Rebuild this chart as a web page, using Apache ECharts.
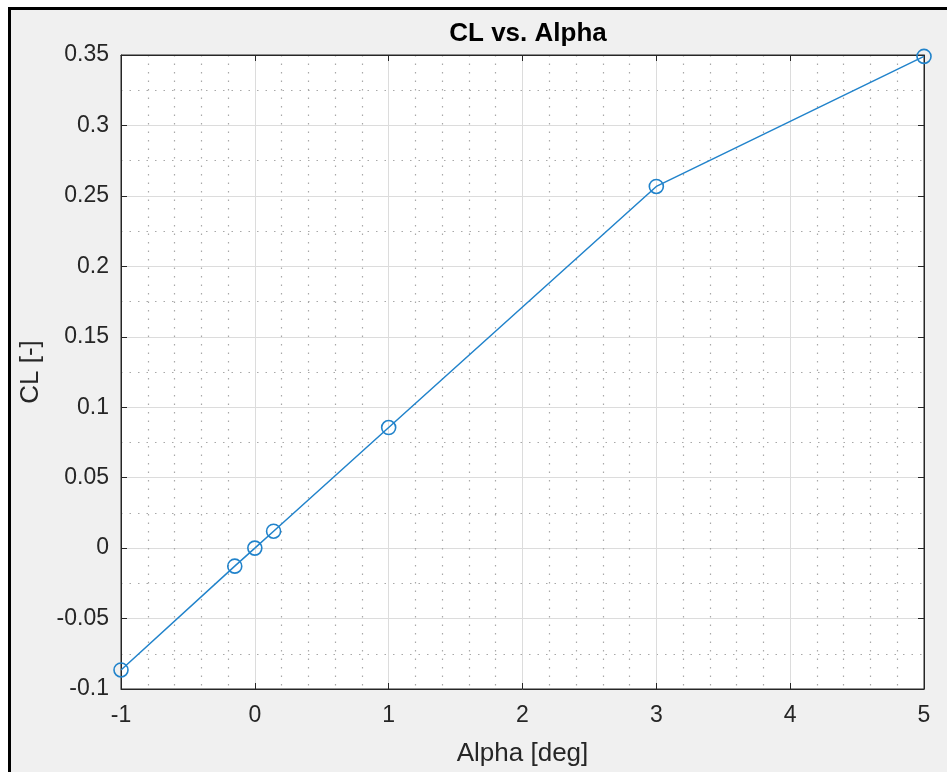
<!DOCTYPE html>
<html>
<head>
<meta charset="utf-8">
<script src="https://cdn.jsdelivr.net/npm/echarts@6/dist/echarts.min.js"></script>
<style>
  html, body { margin: 0; padding: 0; background: #ffffff; }
  #frame { position: absolute; left: 8px; top: 7px; width: 939px; height: 765px; box-sizing: border-box;
           border-left: 3px solid #000; border-top: 3px solid #000; background: #f0f0f0; }
  #chart { position: absolute; left: 0; top: 0; width: 947px; height: 772px; }
</style>
</head>
<body>
<div id="frame"></div>
<div id="chart"></div>
<script>
// Data
const alphaDeg = [-1, -0.15, 0, 0.14, 1, 3, 5];
const clValues = [-0.0865, -0.0128, 0, 0.012, 0.0856, 0.2567, 0.349];

const xTickMin = -1, xTickMax = 5, xTickStep = 1;
const yTickMin = -0.1, yTickMax = 0.35, yTickStep = 0.05;

const titleText = 'CL vs. Alpha';
const xName = 'Alpha [deg]';
const yName = 'CL [-]';

const textColor = '#262626';
const fontFamily = "'Liberation Sans', Arial, sans-serif";
const lineColor = '#2183cb';

const chart = echarts.init(document.getElementById('chart'), null, { renderer: 'canvas' });

const pts = alphaDeg.map((a, i) => [a, clValues[i]]);

const commonX = {
  type: 'value', min: xTickMin, max: xTickMax, interval: xTickStep,
  axisLine: { show: true, onZero: false, lineStyle: { color: textColor, width: 1 } },
};
const commonY = {
  type: 'value', min: yTickMin, max: yTickMax, interval: yTickStep,
  axisLine: { show: true, onZero: false, lineStyle: { color: textColor, width: 1 } },
};

chart.setOption({
  backgroundColor: 'transparent',
  animation: false,
  title: {
    text: titleText, left: 523, top: 16, textAlign: 'center',
    textStyle: { fontFamily, fontSize: 26, fontWeight: 'bold', color: '#000' }
  },
  grid: {
    left: 121, top: 55, width: 803, height: 634,
    show: true, backgroundColor: '#ffffff', borderColor: textColor, borderWidth: 1
  },
  xAxis: [
    Object.assign({}, commonX, {
      position: 'bottom',
      name: xName, nameLocation: 'middle', nameGap: 52,
      nameTextStyle: { fontFamily, fontSize: 26, color: textColor },
      axisTick: { show: true, inside: true, length: 6, lineStyle: { color: textColor } },
      axisLabel: { fontFamily, fontSize: 23, color: textColor, margin: 15 },
      splitLine: { show: true, lineStyle: { color: '#dcdcdc', width: 1 } },
      minorTick: { show: false, splitNumber: 5 },
      minorSplitLine: { show: true, lineStyle: { color: '#a8a8a8', width: 1.2, type: [1.5, 7] } }
    }),
    Object.assign({}, commonX, {
      position: 'top',
      axisTick: { show: true, inside: true, length: 6, lineStyle: { color: textColor } },
      axisLabel: { show: false },
      splitLine: { show: false }
    })
  ],
  yAxis: [
    Object.assign({}, commonY, {
      position: 'left',
      name: yName, nameLocation: 'middle', nameGap: 77, nameRotate: 90,
      nameTextStyle: { fontFamily, fontSize: 26, color: textColor },
      axisTick: { show: true, inside: true, length: 6, lineStyle: { color: textColor } },
      axisLabel: { fontFamily, fontSize: 23, color: textColor, margin: 12,
                   formatter: v => String(+v.toFixed(3)) },
      splitLine: { show: true, lineStyle: { color: '#dcdcdc', width: 1 } },
      minorTick: { show: false, splitNumber: 2 },
      minorSplitLine: { show: true, lineStyle: { color: '#a8a8a8', width: 1.2, type: [1.5, 7] } }
    }),
    Object.assign({}, commonY, {
      position: 'right',
      axisTick: { show: true, inside: true, length: 6, lineStyle: { color: textColor } },
      axisLabel: { show: false },
      splitLine: { show: false }
    })
  ],
  series: [{
    type: 'line',
    xAxisIndex: 0, yAxisIndex: 0,
    data: pts,
    symbol: 'circle', symbolSize: 14,
    lineStyle: { color: lineColor, width: 1.5 },
    itemStyle: { color: 'rgba(0,0,0,0)', borderColor: lineColor, borderWidth: 1.6 },
    emphasis: { disabled: true },
    clip: false,
    z: 5
  }]
});
</script>
</body>
</html>
